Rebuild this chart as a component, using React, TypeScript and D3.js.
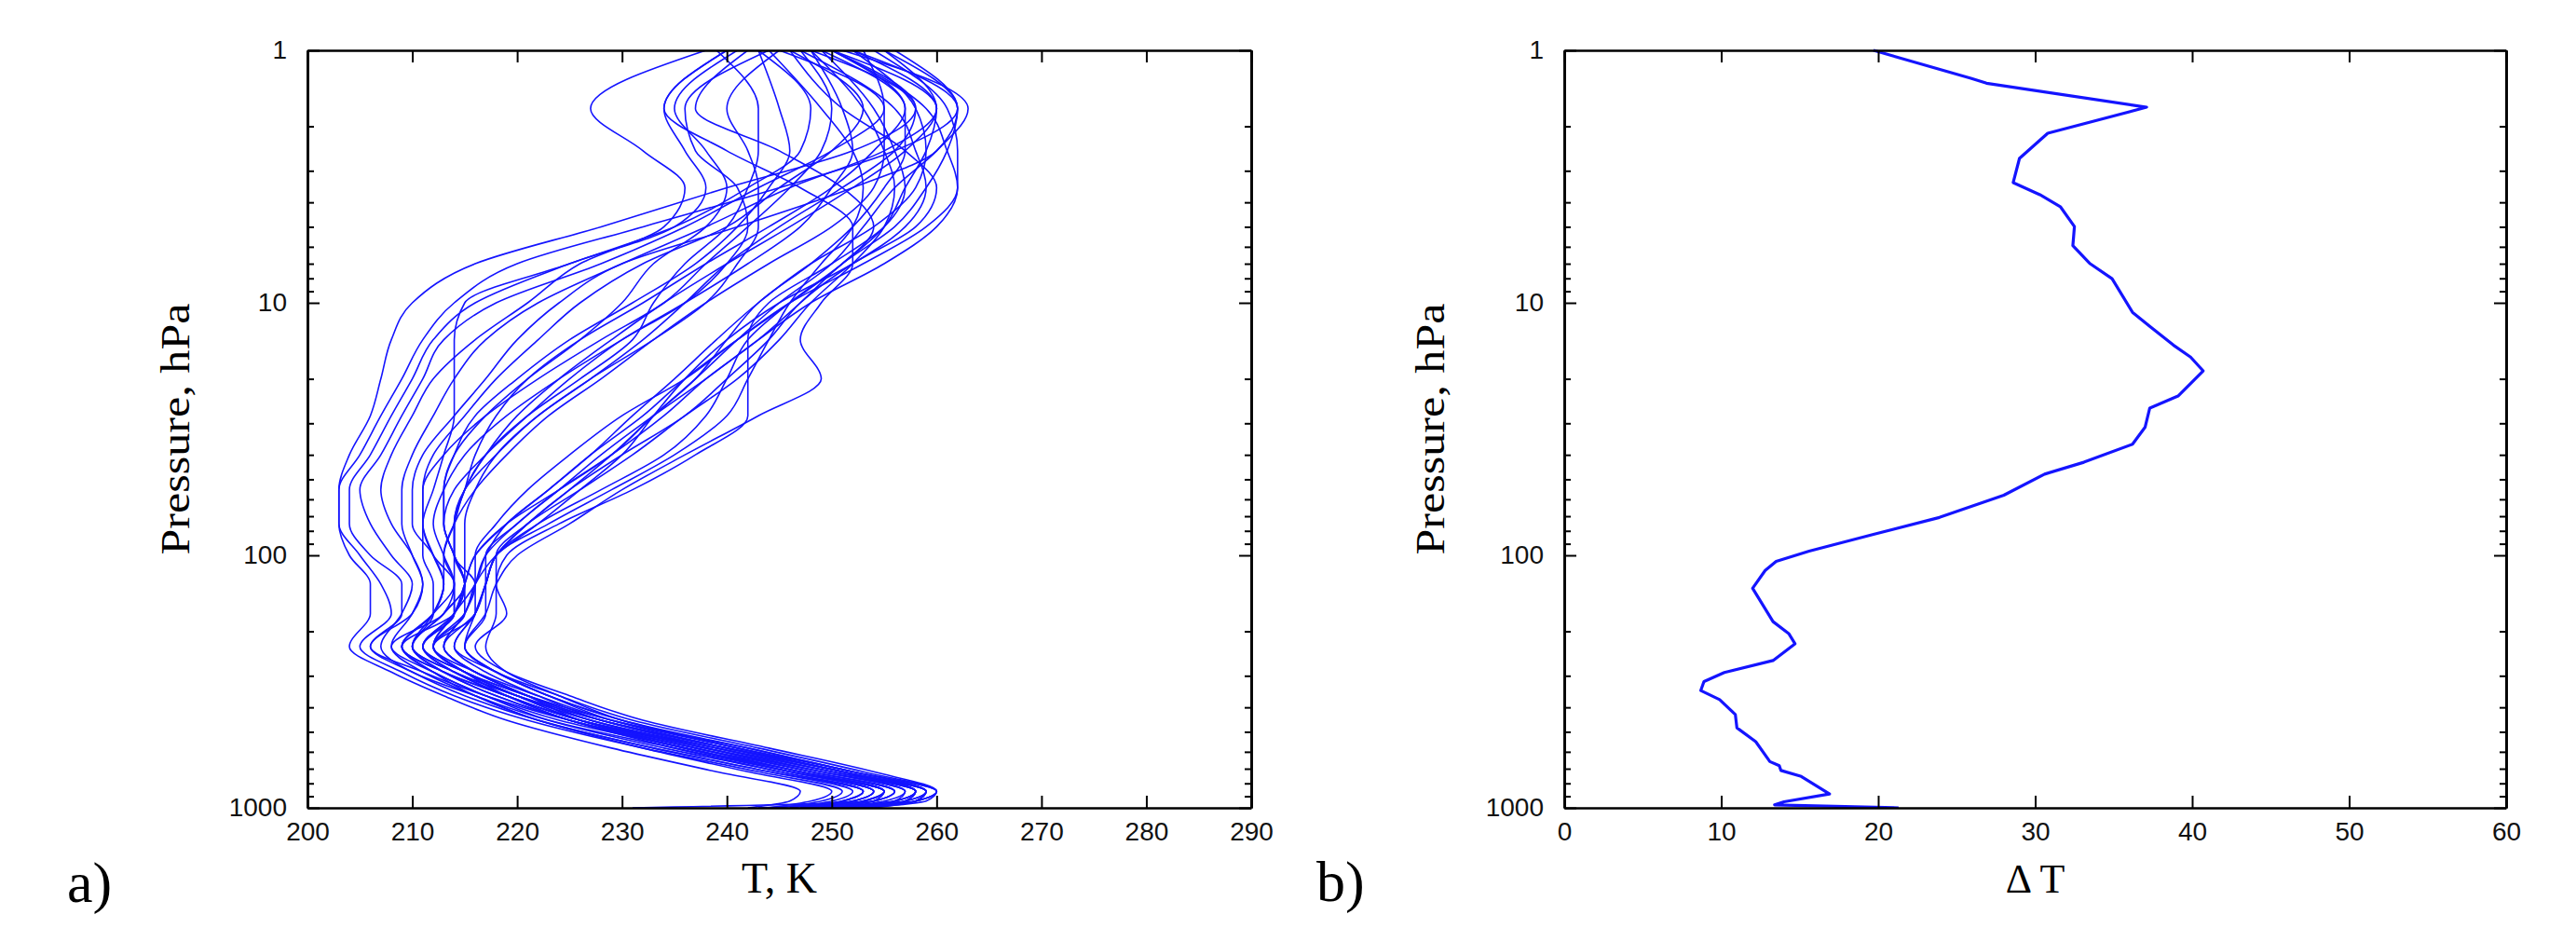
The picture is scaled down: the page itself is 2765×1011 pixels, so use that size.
import React, { useEffect, useRef } from "react";
import * as d3 from "d3";

const width = 2765;
const height = 1011;

// pressure levels (hPa) shared by all temperature profiles of panel a
const levels = [1, 1.7, 2.5, 3.5, 5, 7, 10, 14, 20, 28, 40, 55, 75, 100, 130, 170, 230, 290, 360, 450, 580, 720, 860, 940, 1000];

// cold stratosphere profiles (K)
const coldProfiles = [
  [248, 258, 252, 240, 228, 216, 210, 208, 207, 206, 204, 203, 203, 204, 206, 206, 204, 208, 213, 219, 229, 239, 247, 246, 242],
  [252, 262, 256, 245, 232, 220, 214, 211, 209, 207, 205, 203, 203, 205, 207, 208, 205, 209, 214, 221, 232, 243, 251, 249, 245],
  [240, 234, 236, 238, 235, 225, 216, 212, 210, 208, 206, 204, 204, 206, 209, 209, 206, 210, 215, 222, 233, 244, 253, 251, 246],
  [245, 255, 250, 243, 236, 228, 218, 213, 211, 209, 207, 205, 206, 208, 210, 209, 207, 210, 216, 223, 235, 246, 255, 253, 248],
  [238, 227, 232, 236, 234, 226, 221, 216, 212, 210, 208, 207, 208, 210, 211, 210, 208, 212, 217, 224, 236, 246, 254, 252, 244],
  [250, 260, 255, 246, 238, 230, 222, 217, 214, 212, 210, 209, 209, 210, 211, 210, 206, 211, 217, 225, 237, 248, 256, 254, 249],
  [243, 248, 247, 242, 235, 225, 215, 214, 214, 214, 213, 212, 211, 211, 212, 212, 210, 213, 218, 225, 236, 247, 255, 253, 250],
  [255, 262, 260, 252, 241, 230, 224, 220, 217, 214, 211, 210, 210, 212, 213, 212, 209, 213, 219, 226, 238, 249, 258, 257, 251],
];

// intermediate profiles (K)
const midProfiles = [
  [246, 253, 250, 245, 240, 232, 226, 222, 218, 215, 212, 211, 211, 212, 213, 212, 209, 212, 217, 223, 234, 245, 253, 251, 247],
  [241, 235, 238, 240, 238, 233, 230, 226, 221, 217, 214, 213, 213, 214, 215, 214, 211, 214, 219, 226, 238, 249, 257, 255, 250],
  [249, 257, 254, 250, 244, 238, 232, 226, 221, 218, 216, 215, 214, 214, 215, 213, 210, 214, 220, 227, 239, 250, 258, 256, 249],
  [244, 236, 237, 241, 242, 240, 236, 230, 224, 219, 215, 213, 212, 213, 214, 213, 208, 211, 216, 222, 232, 242, 250, 248, 244],
  [252, 260, 257, 252, 246, 240, 234, 229, 224, 220, 217, 215, 214, 214, 214, 212, 209, 213, 219, 226, 239, 250, 259, 257, 251],
  [239, 243, 243, 242, 240, 236, 233, 231, 226, 221, 217, 215, 214, 213, 213, 212, 210, 213, 218, 225, 236, 247, 255, 254, 249],
  [247, 250, 249, 246, 242, 238, 234, 228, 222, 217, 213, 211, 211, 212, 214, 214, 211, 215, 221, 228, 240, 251, 259, 257, 252],
  [243, 245, 246, 244, 241, 237, 231, 225, 220, 216, 214, 213, 213, 214, 215, 214, 209, 212, 216, 222, 233, 244, 252, 250, 246],
  [250, 258, 256, 251, 245, 240, 236, 232, 227, 222, 218, 216, 215, 215, 215, 213, 210, 214, 220, 228, 240, 251, 258, 256, 250],
  [245, 240, 242, 243, 243, 241, 238, 233, 227, 222, 218, 215, 214, 214, 216, 216, 212, 215, 220, 226, 237, 247, 255, 253, 247],
  [253, 255, 255, 254, 250, 244, 238, 233, 228, 223, 219, 216, 214, 213, 214, 214, 211, 215, 221, 229, 241, 252, 259, 258, 252],
  [248, 251, 252, 250, 247, 242, 236, 230, 225, 221, 217, 214, 213, 214, 215, 215, 212, 215, 219, 225, 235, 245, 253, 251, 248],
];

// warm stratosphere profiles (K)
const warmProfiles = [
  [250, 259, 261, 262, 260, 255, 248, 243, 238, 233, 228, 224, 220, 217, 216, 215, 213, 216, 221, 228, 240, 251, 258, 256, 250],
  [254, 261, 262, 262, 259, 253, 246, 241, 236, 232, 227, 223, 219, 217, 216, 214, 212, 216, 222, 229, 242, 252, 260, 258, 252],
  [246, 251, 257, 260, 258, 252, 247, 244, 240, 236, 230, 225, 221, 218, 217, 216, 214, 217, 222, 228, 239, 249, 257, 256, 251],
  [251, 263, 260, 256, 253, 250, 245, 241, 237, 233, 229, 225, 221, 218, 217, 216, 214, 218, 223, 230, 242, 252, 260, 258, 252],
  [247, 256, 258, 259, 257, 252, 245, 240, 236, 233, 230, 226, 222, 218, 216, 215, 212, 215, 220, 226, 237, 247, 255, 253, 248],
  [240, 234, 240, 247, 252, 252, 249, 247, 249, 243, 236, 230, 225, 220, 218, 217, 215, 218, 224, 231, 243, 253, 260, 258, 252],
  [255, 260, 259, 257, 255, 251, 246, 242, 240, 238, 234, 228, 222, 218, 217, 216, 215, 218, 223, 229, 240, 250, 258, 257, 251],
  [249, 254, 256, 257, 255, 250, 244, 242, 242, 242, 237, 231, 224, 219, 218, 219, 216, 219, 225, 232, 244, 254, 260, 259, 253],
  [252, 258, 259, 258, 254, 248, 243, 239, 235, 231, 227, 223, 219, 216, 215, 214, 212, 215, 220, 227, 238, 248, 256, 254, 249],
  [244, 249, 252, 253, 252, 249, 246, 244, 242, 240, 235, 229, 223, 218, 217, 216, 213, 216, 221, 227, 238, 248, 256, 254, 231],
  [256, 262, 261, 259, 256, 251, 247, 243, 238, 234, 229, 224, 220, 217, 217, 217, 215, 218, 223, 230, 241, 251, 259, 258, 252],
  [242, 237, 245, 251, 254, 251, 246, 241, 236, 230, 225, 221, 218, 216, 216, 215, 213, 216, 221, 226, 236, 246, 254, 252, 247],
  [248, 253, 255, 256, 255, 252, 248, 245, 241, 236, 231, 226, 221, 218, 218, 218, 217, 219, 224, 230, 241, 251, 259, 258, 254],
  [250, 257, 257, 255, 252, 248, 243, 240, 237, 233, 229, 224, 219, 216, 215, 214, 211, 214, 219, 225, 236, 246, 254, 252, 243],
];

// panel b: temperature spread profile
const dtPressure = [1, 1.29, 1.35, 1.68, 2.13, 2.68, 3.34, 3.73, 4.16, 4.99, 5.94, 7.0, 8.03, 10.9, 12.4, 14.7, 16.4, 18.6, 23.4, 26.1, 31.1, 36.3, 42.8, 47.7, 57.8, 70.8, 82.6, 96.2, 105.6, 114.8, 135, 183, 204, 224, 261, 291, 316, 343, 373, 427, 482, 547, 656, 681, 711, 751, 881, 946, 973, 1000];
const dtValues = [19.7, 25.9, 26.9, 37.1, 30.8, 29.0, 28.6, 30.3, 31.6, 32.5, 32.4, 33.5, 34.9, 36.2, 37.3, 38.8, 39.9, 40.7, 39.1, 37.3, 37.0, 36.2, 33.1, 30.6, 28.0, 23.9, 19.7, 15.6, 13.5, 12.8, 12.0, 13.3, 14.3, 14.7, 13.3, 10.2, 8.9, 8.7, 9.9, 10.9, 11.0, 12.2, 13.1, 13.7, 13.8, 15.1, 16.9, 14.0, 13.4, 21.3];

const tempTicks = [200, 210, 220, 230, 240, 250, 260, 270, 280, 290];
const dtTicks = [0, 10, 20, 30, 40, 50, 60];
const pressureTicks = [1, 10, 100, 1000];
const pressureMinor = [2, 3, 4, 5, 6, 7, 8, 9, 20, 30, 40, 50, 60, 70, 80, 90, 200, 300, 400, 500, 600, 700, 800, 900];

const boxA = { left: 330, right: 1343, top: 54, bottom: 867 };
const boxB = { left: 1679, right: 2690, top: 54, bottom: 867 };

const tickFont = "'Liberation Sans', Arial, sans-serif";
const titleFont = "'Liberation Serif', 'Times New Roman', serif";
const lineColor = "#1414ff";

function Axes({ box, x, y, xTicks }) {
  const bottomRef = useRef(null);
  const topRef = useRef(null);
  const leftRef = useRef(null);
  const rightRef = useRef(null);
  const leftMinorRef = useRef(null);
  const rightMinorRef = useRef(null);

  useEffect(() => {
    d3.select(bottomRef.current).call(
      d3.axisBottom(x).tickValues(xTicks).tickSizeInner(-13).tickSizeOuter(0).tickPadding(15).tickFormat(d3.format("d"))
    );
    d3.select(topRef.current).call(
      d3.axisTop(x).tickValues(xTicks).tickSizeInner(-13).tickSizeOuter(0).tickFormat(() => "")
    );
    d3.select(leftRef.current).call(
      d3.axisLeft(y).tickValues(pressureTicks).tickSizeInner(-13).tickSizeOuter(0).tickPadding(22).tickFormat(d3.format("d"))
    );
    d3.select(rightRef.current).call(
      d3.axisRight(y).tickValues(pressureTicks).tickSizeInner(-13).tickSizeOuter(0).tickFormat(() => "")
    );
    d3.select(leftMinorRef.current).call(
      d3.axisLeft(y).tickValues(pressureMinor).tickSizeInner(-7).tickSizeOuter(0).tickFormat(() => "")
    );
    d3.select(rightMinorRef.current).call(
      d3.axisRight(y).tickValues(pressureMinor).tickSizeInner(-7).tickSizeOuter(0).tickFormat(() => "")
    );
    [bottomRef, topRef, leftRef, rightRef, leftMinorRef, rightMinorRef].forEach(r => {
      const g = d3.select(r.current);
      g.select("path.domain").attr("stroke", "#000").attr("stroke-width", 2.6);
      g.selectAll(".tick line").attr("stroke", "#000").attr("stroke-width", 2);
      g.selectAll(".tick text")
        .attr("fill", "#111")
        .style("font-family", tickFont)
        .style("font-size", "28px");
    });
  });

  return (
    <g>
      <g ref={bottomRef} transform={`translate(0, ${box.bottom})`} />
      <g ref={topRef} transform={`translate(0, ${box.top})`} />
      <g ref={leftRef} transform={`translate(${box.left}, 0)`} />
      <g ref={rightRef} transform={`translate(${box.right}, 0)`} />
      <g ref={leftMinorRef} transform={`translate(${box.left}, 0)`} />
      <g ref={rightMinorRef} transform={`translate(${box.right}, 0)`} />
    </g>
  );
}

export default function App() {
  const xA = d3.scaleLinear().domain([200, 290]).range([boxA.left, boxA.right]);
  const yA = d3.scaleLog().domain([1, 1000]).range([boxA.top, boxA.bottom]);
  const xB = d3.scaleLinear().domain([0, 60]).range([boxB.left, boxB.right]);
  const yB = d3.scaleLog().domain([1, 1000]).range([boxB.top, boxB.bottom]);

  const profileLine = d3
    .line<number>()
    .x(t => xA(t))
    .y((_, i) => yA(levels[i]))
    .curve(d3.curveMonotoneY);

  const dtLine = d3
    .line<number>()
    .x(v => xB(v))
    .y((_, i) => yB(dtPressure[i]));

  const allProfiles = [...coldProfiles, ...midProfiles, ...warmProfiles];

  return (
    <svg width={width} height={height} style={{ position: "absolute", left: 0, top: 0, background: "#fff" }}>
      <defs>
        <clipPath id="clipA">
          <rect x={boxA.left} y={boxA.top} width={boxA.right - boxA.left} height={boxA.bottom - boxA.top} />
        </clipPath>
        <clipPath id="clipB">
          <rect x={boxB.left} y={boxB.top - 2} width={boxB.right - boxB.left} height={boxB.bottom - boxB.top + 2} />
        </clipPath>
      </defs>
      <rect x={0} y={0} width={width} height={height} fill="#fff" />

      <g clipPath="url(#clipA)">
        {allProfiles.map((p, i) => (
          <path key={i} d={profileLine(p) || ""} fill="none" stroke={lineColor} strokeWidth={1.6} />
        ))}
      </g>
      <g clipPath="url(#clipB)">
        <path d={dtLine(dtValues) || ""} fill="none" stroke={lineColor} strokeWidth={3.2} strokeLinejoin="round" />
      </g>

      <Axes box={boxA} x={xA} y={yA} xTicks={tempTicks} />
      <Axes box={boxB} x={xB} y={yB} xTicks={dtTicks} />

      <text x={(boxA.left + boxA.right) / 2} y={958} textAnchor="middle" fontFamily={titleFont} fontSize={46}>
        T, K
      </text>
      <text x={(boxB.left + boxB.right) / 2} y={958} textAnchor="middle" fontFamily={titleFont} fontSize={44}>
        Δ T
      </text>
      <text
        transform={`translate(203, ${(boxA.top + boxA.bottom) / 2}) rotate(-90)`}
        textAnchor="middle"
        fontFamily={titleFont}
        fontSize={44}
        textLength={270}
        lengthAdjust="spacingAndGlyphs"
      >
        Pressure, hPa
      </text>
      <text
        transform={`translate(1550, ${(boxB.top + boxB.bottom) / 2}) rotate(-90)`}
        textAnchor="middle"
        fontFamily={titleFont}
        fontSize={44}
        textLength={270}
        lengthAdjust="spacingAndGlyphs"
      >
        Pressure, hPa
      </text>
      <text x={72} y={968} fontFamily={titleFont} fontSize={62}>
        a)
      </text>
      <text x={1413} y={967} fontFamily={titleFont} fontSize={62}>
        b)
      </text>
    </svg>
  );
}
